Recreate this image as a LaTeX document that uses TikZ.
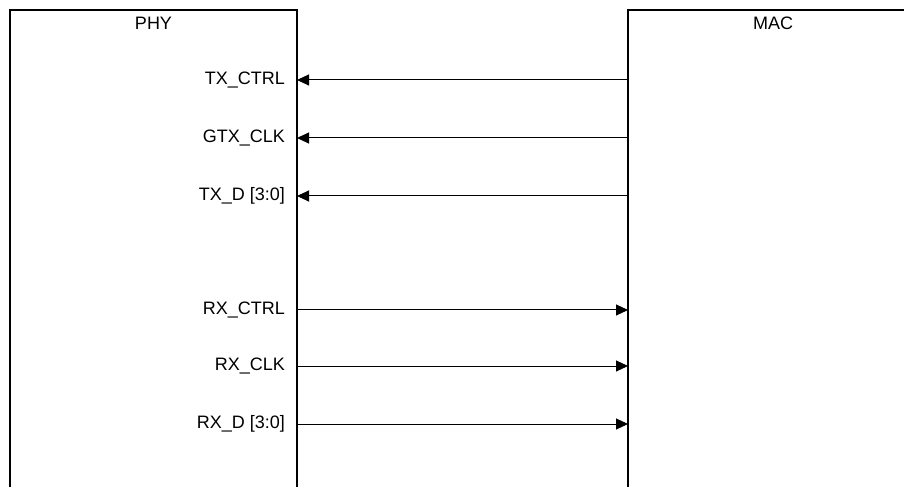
\documentclass[tikz,border=0pt]{standalone}
\usepackage{fontspec}
\setmainfont{Liberation Sans}
\usetikzlibrary{positioning, arrows.meta}

\begin{document}
\begin{tikzpicture}[
      x=1bp, y=-1bp,
      every node/.style={font=\fontsize{18bp}{21bp}\selectfont},
      block/.style={rectangle, draw, line width=2.4bp, outer sep=0pt, anchor=north west, minimum height=520bp},
      signame/.style={anchor=east, inner sep=0pt},
      sig/.style={draw, line width=1bp, -{Triangle[length=12bp, width=11bp]}}
    ]
    \useasboundingbox (0,0) rectangle (904,487);

    % PHY and MAC blocks, open at the bottom
    \node[block, minimum width=287bp, label={[anchor=north, inner sep=0pt, yshift=-7bp]north:PHY}] (phy) at (10,10) {};
    \node[block, minimum width=290bp, label={[anchor=north, inner sep=0pt, yshift=-7bp]north:MAC}] (mac) at (628,10) {};

    % signal names on the PHY side
    \node[signame] (txctrl) at (285,80) {TX\_CTRL};
    \node[signame] (gtxclk) at (285,138) {GTX\_CLK};
    \node[signame] (txd) at (285,196) {TX\_D [3:0]};
    \node[signame] (rxctrl) at (285,310) {RX\_CTRL};
    \node[signame] (rxclk) at (285,366) {RX\_CLK};
    \node[signame] (rxd) at (285,424) {RX\_D [3:0]};

    % transmit: MAC to PHY
    \foreach \s in {txctrl, gtxclk, txd}
      \draw[sig] (mac.west |- \s.east) -- (phy.east |- \s.east);

    % receive: PHY to MAC
    \foreach \s in {rxctrl, rxclk, rxd}
      \draw[sig] (phy.east |- \s.east) -- (mac.west |- \s.east);

  \end{tikzpicture}
\end{document}
